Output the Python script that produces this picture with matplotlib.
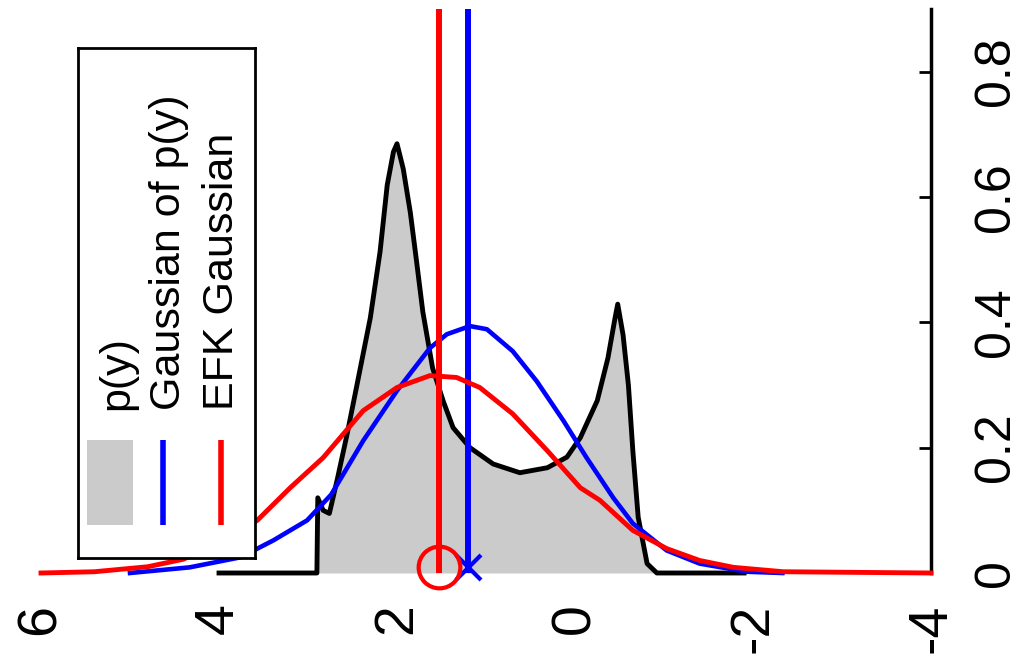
import matplotlib
matplotlib.use('Agg')
from matplotlib import pyplot as plt
from matplotlib.patches import Rectangle

plt.rcParams['font.family'] = ['Liberation Sans', 'DejaVu Sans']

# p(y)
py_x = [4.0, 2.90, 2.89, 2.83, 2.76, 2.67, 2.56, 2.45, 2.30, 2.19, 2.11, 2.04, 2.00,
        1.93, 1.85, 1.78, 1.71, 1.60, 1.48, 1.37, 1.18, 0.92, 0.62, 0.31, 0.09,
        -0.06, -0.25, -0.37, -0.45, -0.48, -0.54, -0.60, -0.65, -0.71, -0.81, -0.92, -1.9]
py_y = [0, 0, 0.12, 0.10, 0.095, 0.15, 0.222, 0.30, 0.407, 0.513, 0.619, 0.672, 0.685,
        0.645, 0.575, 0.497, 0.417, 0.327, 0.274, 0.232, 0.200, 0.174, 0.160, 0.168, 0.185,
        0.216, 0.275, 0.343, 0.407, 0.429, 0.38, 0.30, 0.195, 0.089, 0.015, 0, 0]

# Gaussian of p(y)
gp_x = [5.0, 4.33, 3.76, 3.39, 3.01, 2.74, 2.38, 2.00, 1.63, 1.44, 1.18, 0.99, 0.70,
        0.43, 0.13, -0.13, -0.43, -0.65, -1.03, -1.40, -1.93, -2.33]
gp_y = [0, 0.009, 0.025, 0.052, 0.084, 0.125, 0.211, 0.291, 0.359, 0.381, 0.394, 0.389, 0.354,
        0.306, 0.243, 0.184, 0.120, 0.079, 0.036, 0.015, 0.002, 0]

# EFK Gaussian
efk_x = [6.0, 5.4, 4.8, 4.4, 3.96, 3.57, 3.20, 2.83, 2.38, 2.00, 1.63, 1.33, 1.07, 0.70,
         0.31, -0.06, -0.28, -0.65, -1.03, -1.40, -1.78, -2.34, -4.0]
efk_y = [0, 0.002, 0.01, 0.022, 0.052, 0.084, 0.136, 0.184, 0.259, 0.296, 0.315, 0.312, 0.296, 0.254,
         0.195, 0.136, 0.116, 0.068, 0.039, 0.020, 0.009, 0.002, 0]

gp_mean = 1.20
efk_mean = 1.53
marker_y = 0.01

xticks = [6, 4, 2, 0, -2, -4]
xticklabels = ['6', '4', '2', '0', '-2', '-4']
yticks = [0, 0.2, 0.4, 0.6, 0.8]
yticklabels = ['0', '0.2', '0.4', '0.6', '0.8']
labels = ['p(y)', 'Gaussian of p(y)', 'EFK Gaussian']

W, H = 1019, 657
fig = plt.figure(figsize=(W/100, H/100), dpi=100)
ax = fig.add_axes([41/W, 1-573/H, (931-41)/W, (573-9)/H])

ax.fill_between(py_x, py_y, 0, color='#cbcbcb', lw=0, zorder=1)
ax.plot(py_x, py_y, color='black', lw=3.5, zorder=2, clip_on=False)
ax.plot(gp_x, gp_y, color='blue', lw=3.3, zorder=3, clip_on=False)
ax.plot(efk_x, efk_y, color='red', lw=3.5, zorder=4, clip_on=False)
ax.plot([gp_mean, gp_mean], [0, 0.9], color='blue', lw=4.3, zorder=3, solid_capstyle='butt')
ax.plot([efk_mean, efk_mean], [0, 0.9], color='red', lw=4.3, zorder=4, solid_capstyle='butt')
ax.plot([gp_mean], [marker_y], marker='x', color='blue', ms=18, mew=3, zorder=5, clip_on=False)
ax.plot([efk_mean], [marker_y], marker='o', mfc='none', mec='red', ms=30, mew=3, zorder=5, clip_on=False)

ax.set_xlim(6, -4)
ax.set_ylim(0, 0.9)
for s in ['left', 'top', 'bottom']:
    ax.spines[s].set_visible(False)
ax.spines['right'].set_linewidth(2.5)
ax.yaxis.tick_right()
ax.set_yticks(yticks)
ax.set_yticklabels(yticklabels, rotation=90, va='center', fontsize=36)
ax.set_xticks(xticks)
ax.set_xticklabels(xticklabels, rotation=90, fontsize=40)
ax.tick_params(axis='x', length=0, pad=22)
ax.tick_params(axis='y', direction='in', length=9, width=2, pad=30)

# legend drawn by hand, text turned like the rest
lg = fig.add_axes([78/W, 1-558/H, 177/W, 510/H], zorder=10)
lg.set_xlim(0, 177)
lg.set_ylim(0, 510)
lg.set_xticks([])
lg.set_yticks([])
for s in lg.spines.values():
    s.set_linewidth(2)
lg.add_patch(Rectangle((9, 33), 46, 85, color='#cbcbcb', lw=0))
lg.plot([85, 85], [33, 118], color='blue', lw=4, solid_capstyle='butt')
lg.plot([143, 143], [33, 118], color='red', lw=4, solid_capstyle='butt')
for xx, txt in zip([39, 91, 144], labels):
    lg.text(xx, 148, txt, rotation=90, ha='center', va='bottom', fontsize=31)

fig.savefig('out.png', dpi=100)
